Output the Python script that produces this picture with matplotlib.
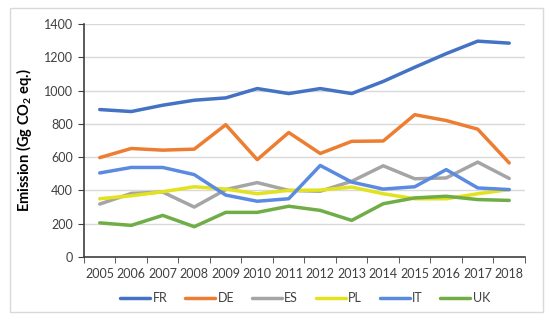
import matplotlib
matplotlib.use('Agg')
import matplotlib.pyplot as plt
from matplotlib.patches import Rectangle
from matplotlib.ticker import MultipleLocator

plt.rcParams['font.family'] = ['Lato', 'DejaVu Sans']
plt.rcParams['mathtext.fontset'] = 'custom'
plt.rcParams['mathtext.bf'] = 'Lato:bold'
plt.rcParams['mathtext.rm'] = 'Lato'

# ==============================
# Data
# ==============================
years = ['2005', '2006', '2007', '2008', '2009', '2010', '2011',
         '2012', '2013', '2014', '2015', '2016', '2017', '2018']

fr = [886, 874, 912, 942, 956, 1012, 982, 1012, 982, 1055, 1140, 1222, 1297, 1285]
de = [597, 652, 642, 648, 795, 585, 748, 622, 695, 697, 855, 820, 768, 565]
es = [318, 382, 390, 300, 405, 447, 400, 395, 455, 548, 470, 475, 570, 472]
pl = [350, 368, 392, 422, 408, 380, 400, 402, 420, 380, 350, 350, 380, 405]
it = [505, 538, 538, 495, 372, 335, 350, 550, 450, 408, 422, 525, 415, 405]
uk = [205, 190, 250, 182, 268, 268, 305, 280, 220, 320, 355, 365, 345, 340]

series = [('FR', fr, '#4472C4'), ('DE', de, '#ED7D31'), ('ES', es, '#A5A5A5'),
          ('PL', pl, '#E2E21E'), ('IT', it, '#5B8BE0'), ('UK', uk, '#70AD47')]

# ==============================
# Plot
# ==============================
fig = plt.figure(figsize=(5.5, 3.28), dpi=100)
fig.patches.append(Rectangle((0.018, 0.049), 0.969, 0.927, transform=fig.transFigure,
                             fill=False, edgecolor='#D9D9D9', linewidth=1.0))
ax = fig.add_axes([0.1527, 0.2165, 0.8018, 0.7103])

x = list(range(len(years)))
for name, vals, col in series:
    ax.plot(x, vals, color=col, linewidth=2.5, label=name, solid_capstyle='round')

ax.set_xlim(-0.5, len(years) - 0.5)
ax.set_ylim(0, 1400)
ax.yaxis.set_major_locator(MultipleLocator(200))
ax.grid(axis='y', color='#D9D9D9', linewidth=1.0)
ax.set_axisbelow(True)

ax.set_xticks(x)
ax.set_xticklabels(years, fontsize=9, color='#404040')
ax.set_xticks([i - 0.5 for i in range(len(years) + 1)], minor=True)
ax.tick_params(axis='x', which='major', length=0, pad=8)
ax.tick_params(axis='x', which='minor', length=4, color='#404040', direction='out')
ax.tick_params(axis='y', length=4, color='#404040', labelsize=9, labelcolor='#404040', pad=4)

for s in ['top', 'right']:
    ax.spines[s].set_visible(False)
for s in ['left', 'bottom']:
    ax.spines[s].set_color('#404040')
    ax.spines[s].set_linewidth(1.2)

ax.set_ylabel(r'Emission (Gg CO$_\mathbf{2}$ eq.)', fontsize=10.5, fontweight='bold', labelpad=7)

ax.legend(loc='center', bbox_to_anchor=(0.555, 0.09), bbox_transform=fig.transFigure,
          ncol=6, frameon=False, fontsize=9, handlelength=2.4, handletextpad=0.2,
          columnspacing=1.4, labelcolor='#404040')

fig.savefig('out.png', dpi=100)
